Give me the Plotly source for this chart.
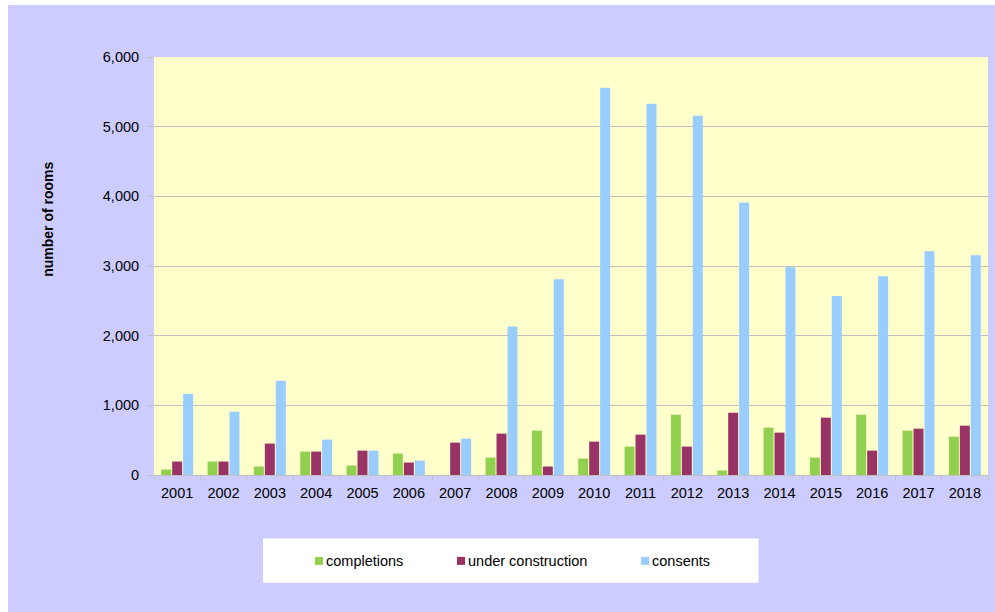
import plotly.graph_objects as go

years = [str(y) for y in range(2001, 2019)]
completions = [79, 193, 122, 336, 136, 308, 0, 250, 637, 236, 408, 866, 64, 680, 250, 866, 637, 551]
under_construction = [193, 193, 451, 336, 350, 179, 465, 594, 122, 479, 579, 408, 894, 608, 823, 350, 665, 708]
consents = [1166, 908, 1352, 508, 350, 207, 522, 2133, 2811, 5558, 5329, 5157, 3913, 2983, 2568, 2854, 3212, 3155]

series_names = ["completions", "under construction", "consents"]
series_colors = ["#92D050", "#993366", "#99CCFF"]
series_values = [completions, under_construction, consents]

W, H = 995, 612
L, R, T, B = 154, 988, 57, 475.5


def px_x(p):
    return (p - L) / (R - L)


def px_y(p):
    return (B - p) / (B - T)


fig = go.Figure()
for name, color, vals in zip(series_names, series_colors, series_values):
    fig.add_trace(go.Bar(x=years, y=vals, name=name, marker_color=color,
                         marker_line_width=0, showlegend=False))

FAM = "Liberation Sans, Arial, sans-serif"
font = dict(family=FAM, size=14.5, color="#000000")

shapes = []
annotations = []
# white frame strips (left and top)
shapes.append(dict(type="rect", xref="paper", yref="paper", x0=px_x(-2), x1=px_x(8),
                   y0=px_y(H + 2), y1=px_y(-2), fillcolor="white", line_width=0, layer="above"))
shapes.append(dict(type="rect", xref="paper", yref="paper", x0=px_x(-2), x1=px_x(W + 2),
                   y0=px_y(5), y1=px_y(-2), fillcolor="white", line_width=0, layer="above"))
# legend box
shapes.append(dict(type="rect", xref="paper", yref="paper", x0=px_x(263), x1=px_x(758.5),
                   y0=px_y(583.5), y1=px_y(539), fillcolor="white", line_width=0, layer="above"))
legend_sq_x = [315, 457, 641]
ly = 561.5
for name, color, sx in zip(series_names, series_colors, legend_sq_x):
    shapes.append(dict(type="rect", xref="paper", yref="paper", x0=px_x(sx), x1=px_x(sx + 8),
                       y0=px_y(ly + 4), y1=px_y(ly - 4), fillcolor=color, line_width=0, layer="above"))
    annotations.append(dict(xref="paper", yref="paper", x=px_x(sx + 9), y=px_y(ly),
                            xanchor="left", yanchor="middle", text=name, showarrow=False,
                            font=dict(family=FAM, size=14.5, color="#000000")))

annotations.append(dict(xref="paper", yref="paper", x=px_x(48), y=px_y(220),
                        xanchor="center", yanchor="middle", text="<b>number of rooms</b>",
                        textangle=-90, showarrow=False,
                        font=dict(family=FAM, size=14, color="#000000")))

fig.update_layout(
    width=W, height=H,
    margin=dict(l=L, r=W - R, t=T, b=H - B, autoexpand=False),
    paper_bgcolor="#CCCCFF",
    plot_bgcolor="#FFFFCC",
    barmode="group",
    bargap=0.29,
    bargroupgap=0.09,
    font=font,
    shapes=shapes,
    annotations=annotations,
    showlegend=False,
)
fig.update_xaxes(type="category", tickson="boundaries", ticks="outside", ticklen=5,
                 tickcolor="#C0C0C0", showline=True, linecolor="#C0C0C0", linewidth=1,
                 showgrid=False, tickfont=font, ticklabelstandoff=5, fixedrange=True)
fig.update_yaxes(range=[0, 6000], dtick=1000, tickformat=",", ticks="outside", ticklen=5,
                 tickcolor="#C0C0C0", showgrid=True, gridcolor="#C0C0C0", gridwidth=1,
                 showline=False, zeroline=False, tickfont=font, ticklabelstandoff=6,
                 fixedrange=True)

fig.write_html("out.html", config={"displayModeBar": False},
               post_script="document.body.style.margin='0';document.body.style.overflow='hidden';")
